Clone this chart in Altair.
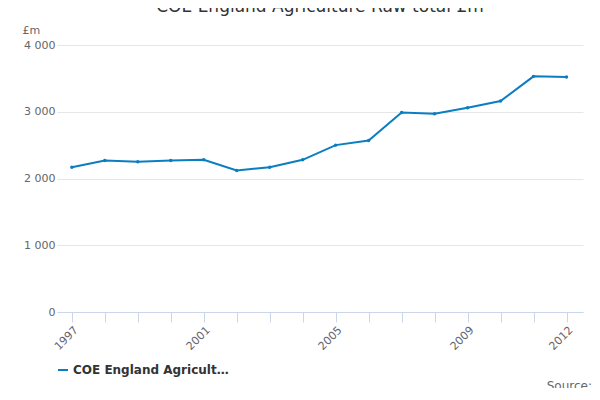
import pandas as pd
import altair as alt

years = list(range(1997, 2013))
values = [2170, 2270, 2250, 2270, 2280, 2120, 2170, 2280, 2500, 2570, 2990, 2970, 3060, 3160, 3530, 3520]
series = "COE England Agriculture Raw total £m"
label_years = [1997, 2001, 2005, 2009, 2012]

df = pd.DataFrame({"year": years, "value": values, "series": series})
blue = "#0b7dc1"
font = "DejaVu Sans"

base = alt.Chart(df).encode(
    x=alt.X("year:Q", title=None,
            scale=alt.Scale(domain=[1996.55, 2012.5], nice=False, zero=False),
            axis=alt.Axis(values=years, grid=False, tickColor="#ccd6eb", domainColor="#ccd6eb",
                          labelAngle=-45, labelAlign="right", labelColor="#666666", labelFontSize=11,
                          labelExpr="indexof([1997,2001,2005,2009,2012], datum.value) >= 0 ? datum.value : ''",
                          tickSize=10, labelPadding=2)),
    y=alt.Y("value:Q", title="£m", scale=alt.Scale(domain=[0, 4000]),
            axis=alt.Axis(values=[0, 1000, 2000, 3000, 4000], domain=False, ticks=False,
                          gridColor="#e6e6e6", labelColor="#666666", labelFontSize=11,
                          labelExpr="replace(format(datum.value, ','), ',', ' ')",
                          titleAngle=0, titleAlign="left", titleX=-35, titleY=-10,
                          titleFontWeight="normal", titleColor="#666666", titleFontSize=11)),
    color=alt.Color("series:N", title=None, scale=alt.Scale(range=[blue]),
                    legend=alt.Legend(orient="bottom", symbolType="stroke", symbolStrokeWidth=2,
                                      labelFontSize=12, labelFontWeight="bold", labelColor="#333333",
                                      offset=12)),
)

line = base.mark_line(strokeWidth=2)
points = base.mark_point(filled=True, size=12, opacity=1)

source = alt.Chart(pd.DataFrame({"t": ["Source:"]})).mark_text(
    align="right", fontSize=12, color="#666666", font=font
).encode(text="t:N", x=alt.value(535), y=alt.value(341))

chart = (line + points + source).properties(
    width=526, height=267,
    autosize=alt.AutoSizeParams(type="none"),
    padding={"left": 49, "top": 37, "right": 9, "bottom": 76},
    title=alt.Title("COE England Agriculture Raw total £m", fontSize=17, font=font,
                    fontWeight="normal", color="#333333", offset=8),
).configure(font=font).configure_view(stroke=None)

chart.save("out.html", embed_options={"renderer": "svg", "actions": False})
